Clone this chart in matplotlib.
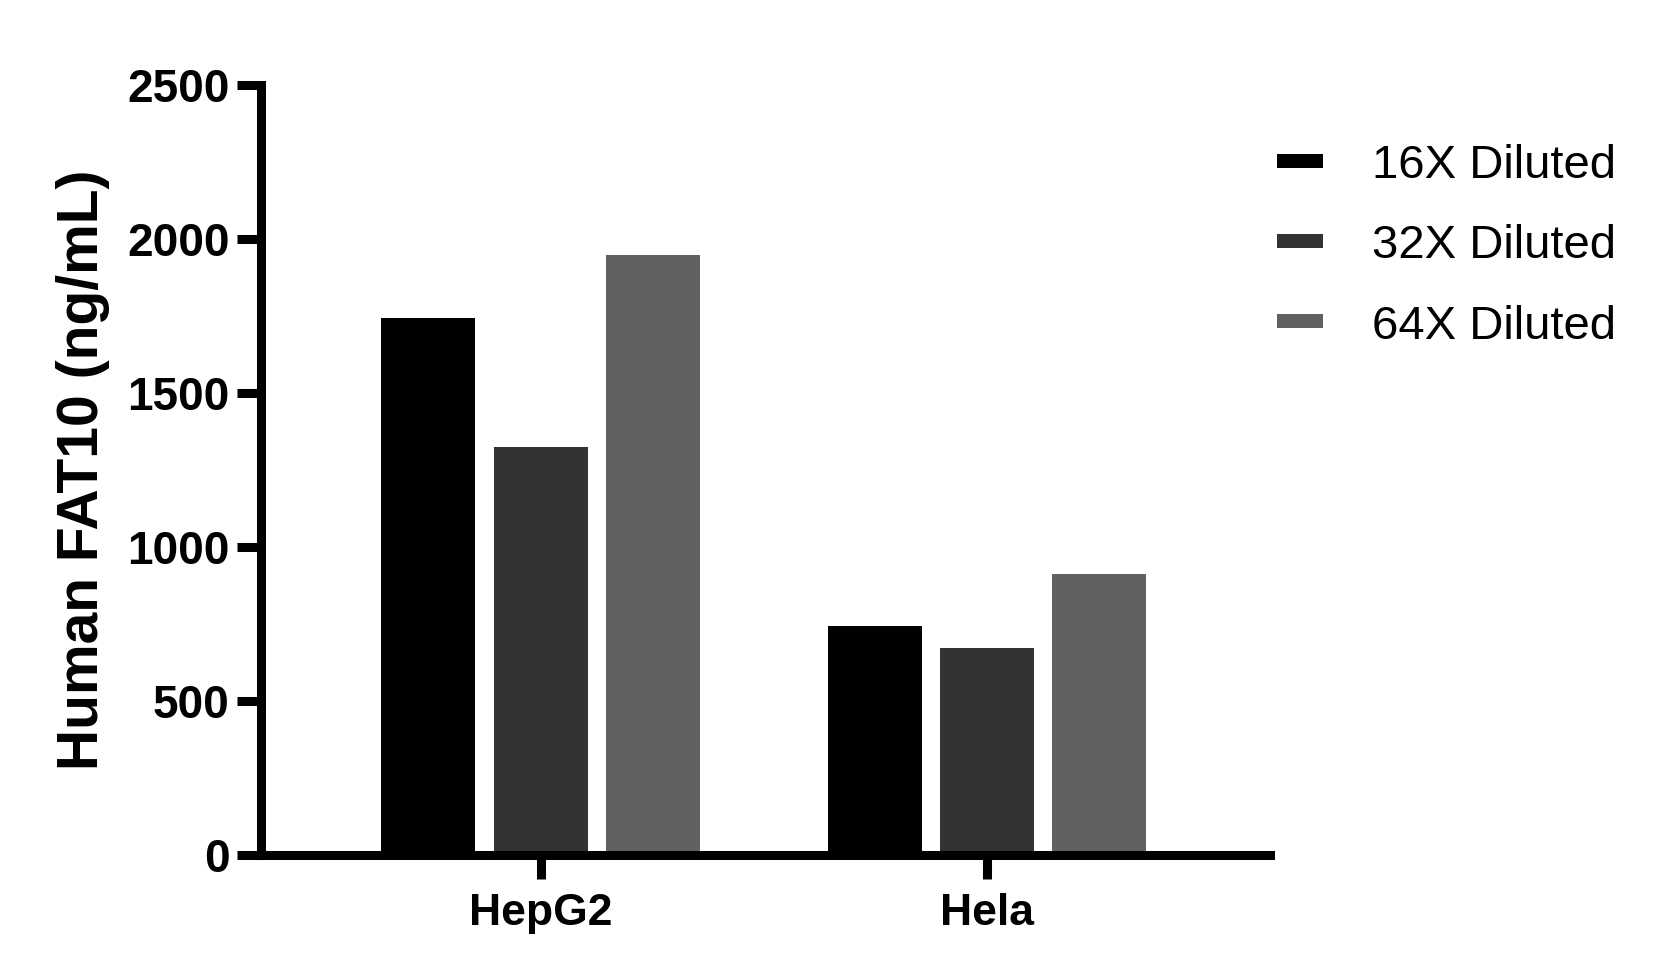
import matplotlib
matplotlib.use('Agg')
import matplotlib.pyplot as plt
from matplotlib.patches import Patch
import numpy as np

# values
cell_lines = ['HepG2', 'Hela']
dilutions = ['16X Diluted', '32X Diluted', '64X Diluted']
diluted_16x = [1742, 742]
diluted_32x = [1323, 670]
diluted_64x = [1946, 911]
bar_colors = ['#000000', '#333333', '#616161']
y_ticks = [0, 500, 1000, 1500, 2000, 2500]

plt.rcParams['font.family'] = ['Liberation Sans', 'DejaVu Sans']

fig = plt.figure(figsize=(16.65, 9.8), dpi=100)
ax = fig.add_axes([261.5 / 1665, 1 - 854.5 / 980, (1270 - 261.5) / 1665, (854.5 - 84.5) / 980])

x = np.arange(len(cell_lines))
pitch = 0.251
width = 0.2105
series = [diluted_16x, diluted_32x, diluted_64x]
for i, vals in enumerate(series):
    ax.bar(x + (i - 1) * pitch, vals, width=width, color=bar_colors[i], zorder=2)

ax.set_xlim(-0.625, 1.634)
ax.set_ylim(0, 2500)
ax.set_yticks(y_ticks)
ax.set_yticklabels([str(t) for t in y_ticks], fontsize=33, fontweight='bold')
ax.set_xticks(x)
ax.set_xticklabels(cell_lines, fontsize=32, fontweight='bold')

for side in ['top', 'right']:
    ax.spines[side].set_visible(False)
for side in ['left', 'bottom']:
    ax.spines[side].set_linewidth(6.5)
    ax.spines[side].set_zorder(3)
ax.tick_params(axis='both', length=17, width=6.5)
ax.tick_params(axis='y', pad=6)
ax.tick_params(axis='x', pad=10.5)

ax.set_ylabel('Human FAT10 (ng/mL)', fontsize=41, fontweight='bold')
ax.yaxis.set_label_coords(-0.150, 0.5)

# legend: small flat swatches, no frame
handles = [Patch(facecolor=c, edgecolor='none') for c in bar_colors]
fig.legend(handles, dilutions, loc='upper left',
           bbox_to_anchor=(1277 / 1665, 1 - 144 / 980),
           frameon=False, fontsize=34, handlelength=0.975, handleheight=0.08,
           handletextpad=1.04, labelspacing=0.77, borderpad=0, borderaxespad=0)

fig.savefig('out.png', dpi=100)
